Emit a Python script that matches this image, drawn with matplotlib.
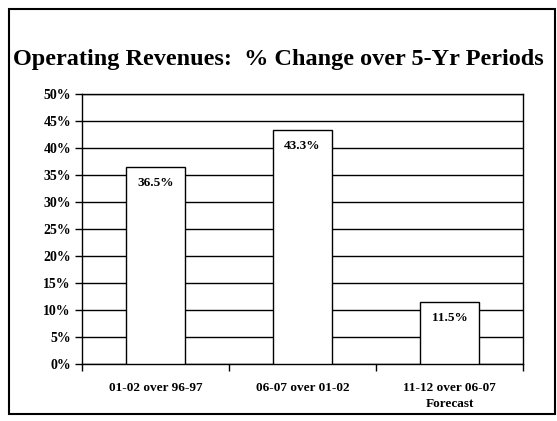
import numpy as np
import matplotlib.pyplot as plt
import matplotlib.patches as patches

plt.rcParams['font.family'] = ['Liberation Serif', 'DejaVu Serif']

categories = ["01-02 over 96-97", "06-07 over 01-02", "11-12 over 06-07\nForecast"]
pct_change = [36.5, 43.3, 11.5]
bar_labels = ["36.5%", "43.3%", "11.5%"]
y_ticks = [0, 5, 10, 15, 20, 25, 30, 35, 40, 45, 50]
y_tick_labels = ["%d%%" % v for v in y_ticks]
title = "Operating Revenues:  % Change over 5-Yr Periods"

fig = plt.figure(figsize=(5.57, 4.21), dpi=100)
ax = fig.add_axes([82/557, 1-364/421, (523-82)/557, (364-94)/421])

x = np.arange(len(categories))
ax.bar(x, pct_change, width=0.4, color="white", edgecolor="black", linewidth=1.0, zorder=3)

for i in range(len(x)):
    ax.annotate(bar_labels[i], (x[i], pct_change[i]), xytext=(0, -16), textcoords="offset pixels",
                ha="center", va="center", fontsize=9.5, fontweight="bold", zorder=4)

ax.set_ylim(0, 50)
ax.set_xlim(-0.5, len(categories)-0.5)
ax.set_yticks(y_ticks)
ax.set_yticklabels(y_tick_labels, fontsize=10, fontweight="bold")
ax.yaxis.grid(True, color="black", linewidth=1.0, zorder=0)
ax.set_axisbelow(True)

# category labels sit between the boundary ticks
ax.set_xticks(np.arange(-0.5, len(categories)), labels=[""]*(len(categories)+1))
ax.set_xticks(x, labels=categories, minor=True)
ax.tick_params(axis="x", which="minor", length=0, pad=13, labelsize=9.5)
ax.tick_params(axis="x", which="major", direction="out", length=5, width=1)
ax.tick_params(axis="y", direction="out", length=5, width=1, pad=3)
for lab in ax.get_xticklabels(minor=True):
    lab.set_fontweight("bold")
    lab.set_linespacing(1.4)

for s in ax.spines.values():
    s.set_linewidth(1.0)
    s.set_color("black")

fig.text(0.5, 1-60/421, title, ha="center", va="center", fontsize=17.5, fontweight="bold")

fig.patches.append(patches.Rectangle((9/557, 1-414/421), (555-9)/557, (414-9)/421,
                                     transform=fig.transFigure, fill=False, edgecolor="black", linewidth=1.5))

fig.savefig("out.png", dpi=100)
